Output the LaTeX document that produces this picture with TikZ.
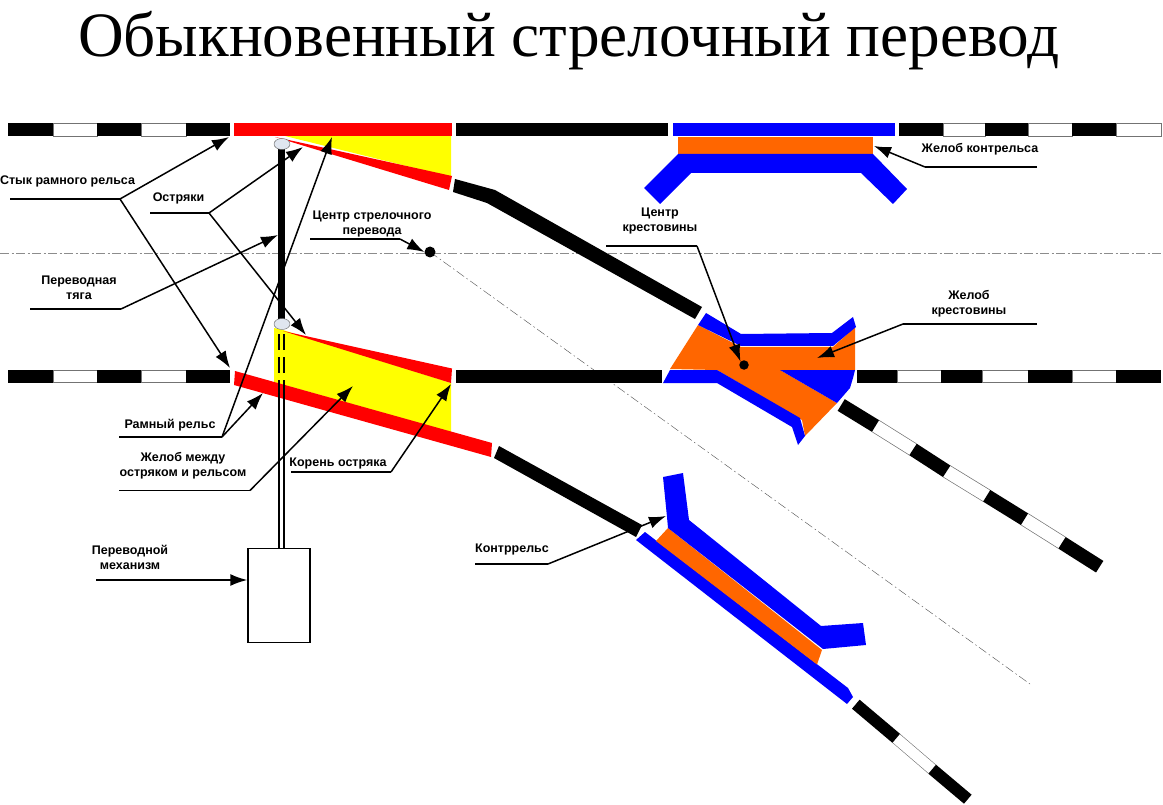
\documentclass[tikz,border=0pt]{standalone}
\usepackage{fontspec}
\setmainfont{Liberation Serif}
\newfontfamily\labelfont{Liberation Sans}
\usetikzlibrary{arrows.meta,shapes.geometric}
\definecolor{railred}{RGB}{255,0,0}
\definecolor{railyellow}{RGB}{255,255,0}
\definecolor{railblue}{RGB}{0,0,255}
\definecolor{railorange}{RGB}{255,102,0}
\definecolor{hingegray}{RGB}{224,230,240}
\tikzset{
  lbl/.style={font=\labelfont\bfseries\fontsize{12.5}{15}\selectfont, align=center, inner sep=0pt},
  leader/.style={line width=1.5pt},
  railw/.style={fill=white, draw=black!55, line width=0.6pt},
  hinge/.style={ellipse, draw=black!60, fill=hingegray, line width=0.4pt, minimum width=16pt, minimum height=11pt, inner sep=0pt},
  dotn/.style={circle, fill=black, inner sep=0pt}
}
\begin{document}
\begin{tikzpicture}[x=1pt, y=-1pt, >={Latex[length=17pt,width=12pt]}]
  \useasboundingbox (0,0) rectangle (1163,805);

  % Titolo
  \node[font=\fontsize{63.2}{63}\selectfont, inner sep=0pt, anchor=base] (title) at (569,57) {Обыкновенный стрелочный перевод};

  % Assi
  \draw[black!45, line width=0.7pt, dash pattern=on 9pt off 2.5pt on 2pt off 2.5pt] (0,253) -- (1163,253);
  \draw[black!70, line width=0.4pt, dash pattern=on 9pt off 3pt on 1.5pt off 3pt] (430,252) -- (1030,684);

  % Rotaie rette (nere e bianche)
  \foreach \xa/\xb in {53/97,141/186,943/985,1028/1072,1116/1161}
    \draw[railw] (\xa,123.5) rectangle (\xb,136);
  \foreach \xa/\xb in {8/53,97/141,186/230,456/668,899/943,985/1028,1072/1116}
    \fill (\xa,123) rectangle (\xb,136);
  \foreach \xa/\xb in {53/97,141/186,897/941,982/1028,1072/1116}
    \draw[railw] (\xa,370) rectangle (\xb,382.5);
  \foreach \xa/\xb in {8/53,97/141,186/230,456/662,857/897,941/982,1028/1072,1116/1161}
    \fill (\xa,369.5) rectangle (\xb,383);

  % Rotaie deviate
  \foreach \xa/\ya/\xb/\yb in {875.5/426/913/449.5, 946.7/471.3/986.7/495.8, 1024.5/519.2/1062/542.8}
    \draw[black!55, line width=14pt] (\xa,\ya) -- (\xb,\yb);
  \draw[white, line width=12.6pt] (875,425.7) -- (913.5,449.8);
  \draw[white, line width=12.6pt] (946,470.9) -- (987.3,496.2);
  \draw[white, line width=12.6pt] (1024,518.9) -- (1062.5,543.1);
  \foreach \xa/\ya/\xb/\yb in {841.2/405/875.5/426, 913/449.5/946.7/471.3, 986.7/495.8/1024.5/519.2, 1062/542.8/1099.7/566.7}
    \draw[black, line width=13.7pt] (\xa,\ya) -- (\xb,\yb);
  \draw[black!55, line width=11.8pt] (896.2,738.3) -- (932.2,769.2);
  \draw[white, line width=10.6pt] (895.8,738) -- (932.6,769.5);
  \foreach \xa/\ya/\xb/\yb in {855.8/704.2/896.2/738.3, 932.2/769.2/967.8/799.2}
    \draw[black, line width=11.8pt] (\xa,\ya) -- (\xb,\yb);
  \fill (455,179) -- (495,190) -- (702,307) -- (695,319) -- (487,203) -- (453,192) -- cycle;
  \fill (499,446) -- (642,525) -- (636,537) -- (494,458) -- cycle;

  % Aghi e controaghi
  \fill[railyellow] (285,136) -- (451,136) -- (451,177) -- cycle;
  \fill[railyellow] (274,328) -- (283,330) -- (451,383) -- (451,432) -- (274,382) -- cycle;
  \fill[railred] (234,123) rectangle (452,136);
  \fill[railred] (275,137) -- (452,176) -- (449,190) -- cycle;
  \fill[railred] (283,331) -- (452,368.5) -- (451,383) -- cycle;
  \fill[railred] (235,371) -- (492,443) -- (491,457) -- (234,385) -- cycle;

  % Tirante e meccanismo
  \draw[line width=6.5pt] (281.5,145) -- (281.5,325);
  \draw[line width=2pt, dash pattern=on 16pt off 7pt] (278.5,334) -- (278.5,385);
  \draw[line width=2pt, dash pattern=on 16pt off 7pt] (283.5,334) -- (283.5,385);
  \draw[line width=1.4pt] (279,385) -- (279,549);
  \draw[line width=1.4pt] (284,385) -- (284,549);
  \node[draw, line width=1.5pt, fill=white, minimum width=62pt, minimum height=94pt, inner sep=0pt] (mech) at (279,595.7) {};
  \node[hinge] (hingeA) at (282,144) {};
  \node[hinge] (hingeB) at (282,324) {};

  % Controrotaia superiore
  \fill[railblue] (673,123) rectangle (895,136);
  \fill[railorange] (678,137) rectangle (873,154);
  \fill[railblue] (678,154) -- (873,154) -- (907,189) -- (893,204) -- (861,173) -- (691,173) -- (660,204) -- (644,188) -- cycle;

  % Cuore
  \fill[railorange] (698,325) -- (741,347) -- (833,347) -- (855,327) -- (855,370) -- (780,370) -- (837,403) -- (805,436) -- (802,420) -- (717,370) -- (670,369) -- cycle;
  \fill[railblue] (706,313) -- (741,334) -- (832,333) -- (853,317) -- (856,327) -- (833,346) -- (741,346) -- (698,325) -- cycle;
  \fill[railblue] (670,370) -- (717,370) -- (800,418) -- (805,436) -- (798,445) -- (792,427) -- (717,383) -- (663,383) -- cycle;
  \fill[railblue] (780,370) -- (855,370) -- (853,378) -- (850,388) -- (837,403) -- cycle;

  % Controrotaia inferiore
  \fill[railblue] (645,532) -- (848,688) -- (853,697) -- (847,704) -- (636,540) -- cycle;
  \fill[railorange] (668,528) -- (822,650) -- (817,664.5) -- (656,541) -- cycle;
  \fill[railblue] (663,477) -- (683,473) -- (689,520) -- (821,626) -- (863,623) -- (866,645) -- (823,649) -- (668,528) -- (667,517) -- cycle;

  % Punti
  \node[dotn, minimum size=11pt] (centerS) at (430,252) {};
  \node[dotn, minimum size=9.5pt] (centerX) at (744,365) {};

  % Etichette
  \node[lbl] (lStyk) at (67.5,181) {Стык рамного рельса};
  \node[lbl] (lOstr) at (178.5,198) {Остряки};
  \node[lbl] (lCentS) at (372,223.5) {Центр стрелочного\\перевода};
  \node[lbl] (lTyaga) at (79,288) {Переводная\\тяга};
  \node[lbl] (lRam) at (170,425) {Рамный рельс};
  \node[lbl] (lGut) at (183,466) {Желоб между\\остряком и рельсом};
  \node[lbl] (lKor) at (338,463) {Корень остряка};
  \node[lbl] (lMech) at (130,557.5) {Переводной\\механизм};
  \node[lbl] (lKontr) at (512,549) {Контррельс};
  \node[lbl] (lCentX) at (660,220.5) {Центр\\крестовины};
  \node[lbl] (lGutX) at (969,304) {Желоб\\крестовины};
  \node[lbl] (lGutK) at (980,149) {Желоб контрельса};

  % Punti di piega e punte
  \coordinate (kStyk) at (120,199);
  \coordinate (kOstr) at (209,213);
  \coordinate (kCentS) at (400,239);
  \coordinate (kTyaga) at (121,309);
  \coordinate (kRam) at (222,437);
  \coordinate (kGut) at (250,490.5);
  \coordinate (kKor) at (391,472);
  \coordinate (kKontr) at (548,564);
  \coordinate (kCentX) at (697,246);
  \coordinate (kGutX) at (903,324);
  \coordinate (kGutK) at (925,167);

  % Linee di richiamo
  \draw[leader] (10,199) -- (kStyk);
  \draw[leader,->] (kStyk) -- (229,137);
  \draw[leader,->] (kStyk) -- (230,368);
  \draw[leader] (150,213) -- (kOstr);
  \draw[leader,->] (kOstr) -- (303,147);
  \draw[leader,->] (kOstr) -- (306,335);
  \draw[leader] (310,239) -- (kCentS);
  \draw[leader,->] (kCentS) -- (centerS.west);
  \draw[leader] (30,309) -- (kTyaga);
  \draw[leader,->] (kTyaga) -- (278,235);
  \draw[leader] (119,437) -- (kRam);
  \draw[leader,->] (kRam) -- (263,393);
  \draw[leader,->] (kRam) -- (332,137);
  \draw[leader] (119,490.5) -- (kGut);
  \draw[leader,->] (kGut) -- (353,386);
  \draw[leader] (291,472) -- (kKor);
  \draw[leader,->] (kKor) -- (451,384);
  \draw[leader,->] ([yshift=15.7pt]mech.west) +(-151,0) -- ([yshift=15.7pt]mech.west);
  \draw[leader] (475,564) -- (kKontr);
  \draw[leader,->] (kKontr) -- (666,516);
  \draw[leader] (606,246) -- (kCentX);
  \draw[leader,->] (kCentX) -- (centerX.north west);
  \draw[leader] (1037,324) -- (kGutX);
  \draw[leader,->] (kGutX) -- (817,358);
  \draw[leader] (1037,167) -- (kGutK);
  \draw[leader,->] (kGutK) -- (874,146);
\end{tikzpicture}
\end{document}
